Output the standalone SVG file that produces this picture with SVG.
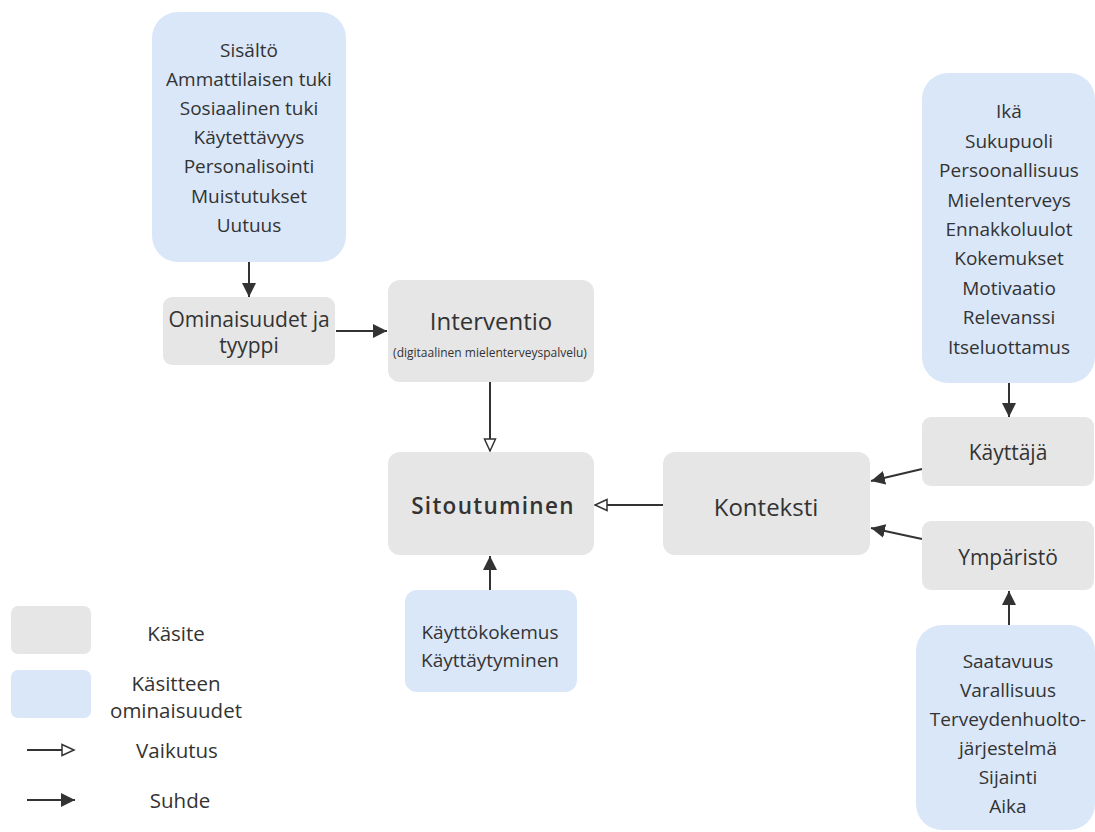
<svg xmlns="http://www.w3.org/2000/svg" width="1095" height="832" viewBox="0 0 1095 832">
<style>
.concept{fill:#e6e6e6}
.prop{fill:#dae7f9}
text{font-family:"Open Sans","DejaVu Sans",sans-serif;fill:#333;text-anchor:middle;dominant-baseline:central}
.tp{font-size:19px}
.tc{font-size:21px}
.tl{font-size:20.5px}
.edge{stroke:#333;stroke-width:2;fill:none}
</style>
<defs>
<marker id="filled" markerUnits="userSpaceOnUse" markerWidth="16" markerHeight="14" refX="14" refY="7" orient="auto">
<path d="M0,0 L14,7 L0,14 Z" fill="#333"/>
</marker>
<marker id="hollow" markerUnits="userSpaceOnUse" markerWidth="16" markerHeight="14" refX="13" refY="7" orient="auto">
<path d="M1,1.5 L13,7 L1,12.5 Z" fill="#fff" stroke="#333" stroke-width="1.5"/>
</marker>
</defs>
<rect width="1095" height="832" fill="#fff"/>

<g id="connectors">
<line class="edge" x1="249" y1="262" x2="249" y2="297" marker-end="url(#filled)"/>
<line class="edge" x1="336" y1="331" x2="387" y2="331" marker-end="url(#filled)"/>
<line class="edge" x1="490" y1="382" x2="490" y2="451" marker-end="url(#hollow)"/>
<line class="edge" x1="663" y1="505" x2="595" y2="505" marker-end="url(#hollow)"/>
<line class="edge" x1="490" y1="590" x2="490" y2="556" marker-end="url(#filled)"/>
<line class="edge" x1="922" y1="469" x2="871" y2="481" marker-end="url(#filled)"/>
<line class="edge" x1="922" y1="539" x2="871" y2="528" marker-end="url(#filled)"/>
<line class="edge" x1="1009" y1="383" x2="1009" y2="417" marker-end="url(#filled)"/>
<line class="edge" x1="1009" y1="625" x2="1009" y2="591" marker-end="url(#filled)"/>
</g>

<g id="intervention-props">
<rect class="prop" x="152" y="12" width="194" height="250" rx="26"/>
<text class="tp" x="249" y="50">Sisältö</text>
<text class="tp" x="249" y="79">Ammattilaisen tuki</text>
<text class="tp" x="249" y="108">Sosiaalinen tuki</text>
<text class="tp" x="249" y="137">Käytettävyys</text>
<text class="tp" x="249" y="166">Personalisointi</text>
<text class="tp" x="249" y="196">Muistutukset</text>
<text class="tp" x="249" y="225">Uutuus</text>
</g>

<g id="ominaisuudet">
<rect class="concept" x="163" y="297" width="172" height="68" rx="9"/>
<text class="tc" x="249" y="319">Ominaisuudet ja</text>
<text class="tc" x="249" y="345">tyyppi</text>
</g>

<g id="interventio">
<rect class="concept" x="388" y="280" width="206" height="102" rx="12"/>
<text x="491" y="320" style="font-size:24px">Interventio</text>
<text x="490" y="352" style="font-size:12px">(digitaalinen mielenterveyspalvelu)</text>
</g>

<g id="sitoutuminen">
<rect class="concept" x="388" y="452" width="206" height="103" rx="12"/>
<text x="493" y="505" style="font-size:22.5px;font-weight:600;letter-spacing:1.3px">Sitoutuminen</text>
</g>

<g id="kaytto-props">
<rect class="prop" x="405" y="590" width="172" height="102" rx="12"/>
<text class="tp" x="490" y="632">Käyttökokemus</text>
<text class="tp" x="490" y="660">Käyttäytyminen</text>
</g>

<g id="konteksti">
<rect class="concept" x="663" y="452" width="207" height="103" rx="12"/>
<text x="766" y="506" style="font-size:24px">Konteksti</text>
</g>

<g id="kayttaja">
<rect class="concept" x="922" y="417" width="172" height="69" rx="9"/>
<text class="tc" x="1008" y="452">Käyttäjä</text>
</g>

<g id="ymparisto">
<rect class="concept" x="922" y="521" width="172" height="69" rx="9"/>
<text class="tc" x="1008" y="557">Ympäristö</text>
</g>

<g id="user-props">
<rect class="prop" x="922" y="73" width="173" height="310" rx="26"/>
<text class="tp" x="1009" y="111">Ikä</text>
<text class="tp" x="1009" y="141">Sukupuoli</text>
<text class="tp" x="1009" y="170">Persoonallisuus</text>
<text class="tp" x="1009" y="200">Mielenterveys</text>
<text class="tp" x="1009" y="229">Ennakkoluulot</text>
<text class="tp" x="1009" y="258">Kokemukset</text>
<text class="tp" x="1009" y="288">Motivaatio</text>
<text class="tp" x="1009" y="317">Relevanssi</text>
<text class="tp" x="1009" y="347">Itseluottamus</text>
</g>

<g id="env-props">
<rect class="prop" x="916" y="625" width="179" height="205" rx="26"/>
<text class="tp" x="1008" y="661">Saatavuus</text>
<text class="tp" x="1008" y="690">Varallisuus</text>
<text class="tp" x="1008" y="719">Terveydenhuolto-</text>
<text class="tp" x="1008" y="748">järjestelmä</text>
<text class="tp" x="1008" y="777">Sijainti</text>
<text class="tp" x="1008" y="806">Aika</text>
</g>

<g id="legend">
<rect class="concept" x="11" y="606" width="80" height="48" rx="7"/>
<text class="tl" x="176" y="633">Käsite</text>
<rect class="prop" x="11" y="670" width="80" height="48" rx="7"/>
<text class="tl" x="176" y="683">Käsitteen</text>
<text class="tl" x="176" y="710">ominaisuudet</text>
<line class="edge" x1="27" y1="750" x2="74" y2="750" stroke-width="1.6" marker-end="url(#hollow)"/>
<text class="tl" x="177" y="750">Vaikutus</text>
<line class="edge" x1="27" y1="800" x2="75" y2="800" marker-end="url(#filled)"/>
<text class="tl" x="180" y="800">Suhde</text>
</g>
</svg>
